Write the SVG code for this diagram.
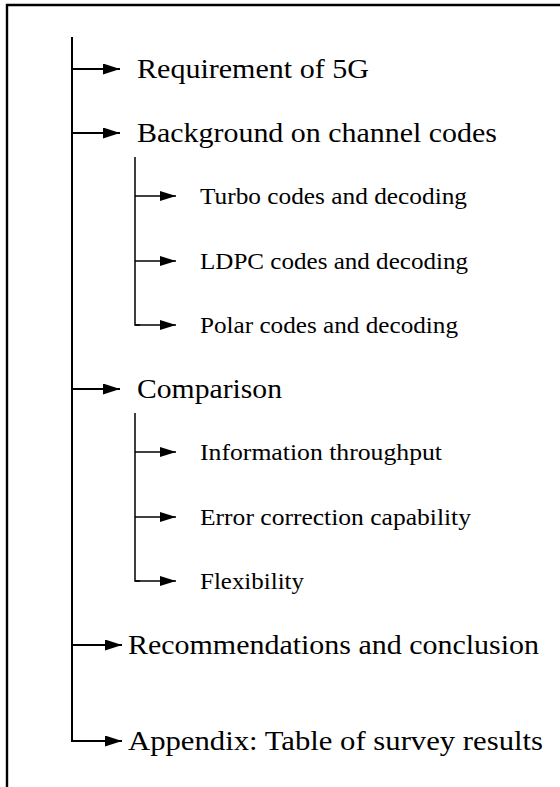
<svg xmlns="http://www.w3.org/2000/svg" width="560" height="787" viewBox="0 0 560 787">
  <style>
    .frame { fill: none; stroke: #000; stroke-width: 2.4; }
    .trunk { fill: none; stroke: #000; stroke-width: 2; }
    .branch { fill: none; stroke: #000; stroke-width: 1.5; }
    .main { stroke: #000; stroke-width: 2; marker-end: url(#headMain); }
    .sub { stroke: #000; stroke-width: 1.5; marker-end: url(#headSub); }
    .t1 { font-family: "Liberation Serif", "Times New Roman", serif; font-size: 28px; fill: #000; }
    .t2 { font-family: "Liberation Serif", "Times New Roman", serif; font-size: 23.5px; fill: #000; }
  </style>
  <defs>
    <marker id="headMain" markerUnits="userSpaceOnUse" markerWidth="18" markerHeight="12" refX="17" refY="5.5" orient="auto">
      <path d="M0,0 L17,5.5 L0,11 Z" fill="#000"/>
    </marker>
    <marker id="headSub" markerUnits="userSpaceOnUse" markerWidth="17" markerHeight="11" refX="16" refY="5" orient="auto">
      <path d="M0,0 L16,5 L0,10 Z" fill="#000"/>
    </marker>
  </defs>
  <rect x="0" y="0" width="560" height="787" fill="#fff"/>
  <!-- page frame (top and left edges) -->
  <polyline class="frame" points="7,787 7,5 560,5"/>

  <g id="connectors">
    <!-- trunk -->
    <polyline class="trunk" points="72,37 72,741 80,741"/>
    <line class="main" x1="72" y1="69" x2="120" y2="69"/>
    <line class="main" x1="72" y1="133" x2="120" y2="133"/>
    <line class="main" x1="72" y1="389" x2="120" y2="389"/>
    <line class="main" x1="72" y1="645" x2="122" y2="645"/>
    <line class="main" x1="72" y1="741" x2="122" y2="741"/>
    <!-- channel-codes branch -->
    <polyline class="branch" points="135,157 135,325 140,325"/>
    <line class="sub" x1="135" y1="196" x2="176" y2="196"/>
    <line class="sub" x1="135" y1="261" x2="176" y2="261"/>
    <line class="sub" x1="135" y1="325" x2="176" y2="325"/>
    <!-- comparison branch -->
    <polyline class="branch" points="135,413 135,581 140,581"/>
    <line class="sub" x1="135" y1="452" x2="176" y2="452"/>
    <line class="sub" x1="135" y1="517" x2="176" y2="517"/>
    <line class="sub" x1="135" y1="581" x2="176" y2="581"/>
  </g>

  <g id="requirement"><text class="t1" x="137" y="78" textLength="232" lengthAdjust="spacingAndGlyphs">Requirement of 5G</text></g>
  <g id="background"><text class="t1" x="137" y="142" textLength="360" lengthAdjust="spacingAndGlyphs">Background on channel codes</text></g>
  <g id="turbo"><text class="t2" x="200" y="204" textLength="267" lengthAdjust="spacingAndGlyphs">Turbo codes and decoding</text></g>
  <g id="ldpc"><text class="t2" x="200" y="269" textLength="268" lengthAdjust="spacingAndGlyphs">LDPC codes and decoding</text></g>
  <g id="polar"><text class="t2" x="200" y="333" textLength="258" lengthAdjust="spacingAndGlyphs">Polar codes and decoding</text></g>
  <g id="comparison"><text class="t1" x="137" y="398" textLength="145" lengthAdjust="spacingAndGlyphs">Comparison</text></g>
  <g id="throughput"><text class="t2" x="200" y="460" textLength="242" lengthAdjust="spacingAndGlyphs">Information throughput</text></g>
  <g id="error-correction"><text class="t2" x="200" y="525" textLength="271" lengthAdjust="spacingAndGlyphs">Error correction capability</text></g>
  <g id="flexibility"><text class="t2" x="200" y="589" textLength="104" lengthAdjust="spacingAndGlyphs">Flexibility</text></g>
  <g id="recommendations"><text class="t1" x="128" y="654" textLength="411" lengthAdjust="spacingAndGlyphs">Recommendations and conclusion</text></g>
  <g id="appendix"><text class="t1" x="128" y="750" textLength="415" lengthAdjust="spacingAndGlyphs">Appendix: Table of survey results</text></g>
</svg>
